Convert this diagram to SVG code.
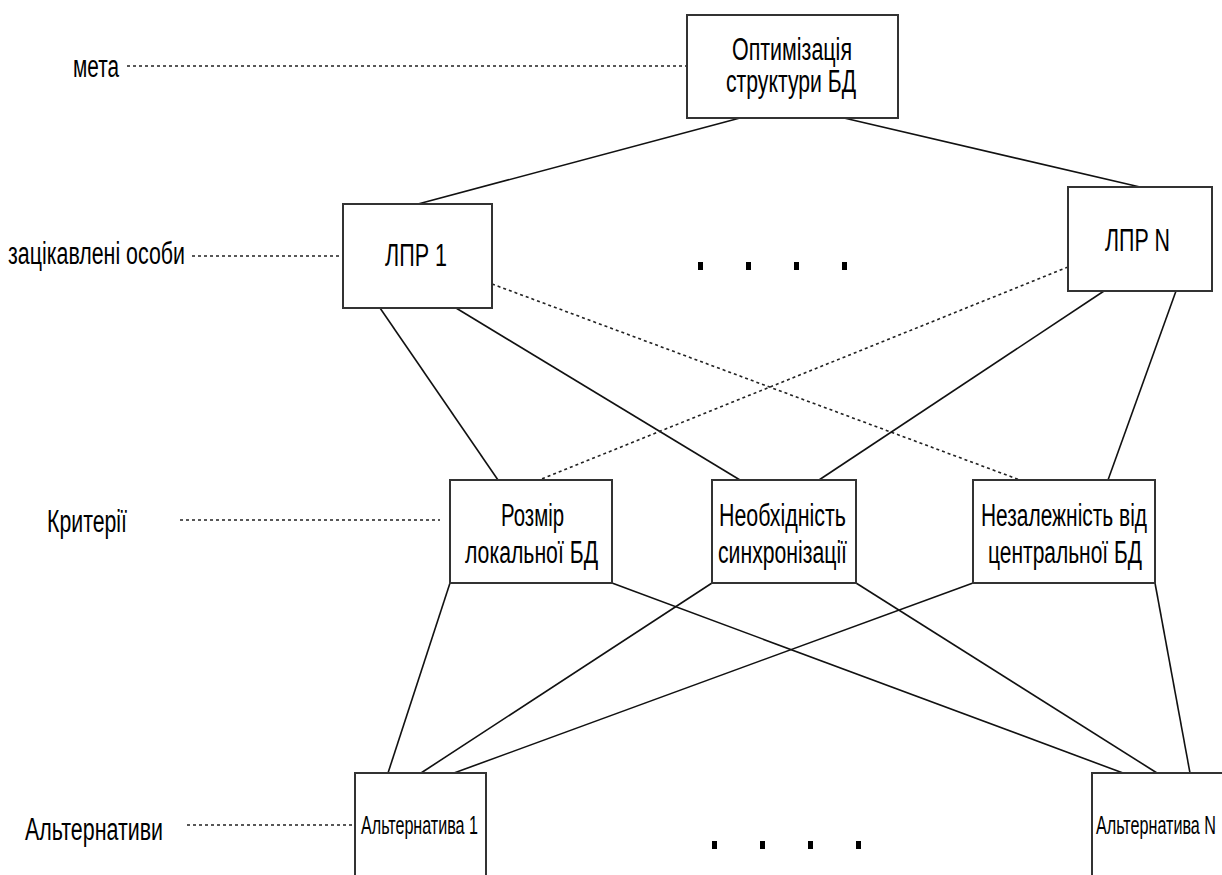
<svg xmlns="http://www.w3.org/2000/svg" width="1222" height="875" viewBox="0 0 1222 875">
  <style>
    .box { fill: #fff; stroke: #333; stroke-width: 2; }
    .t { font-family: "Liberation Sans", Arial, sans-serif; fill: #000; }
    .big { font-size: 31px; }
    .small { font-size: 26px; }
    .edge { stroke: #111; stroke-width: 1.6; fill: none; }
    .dash { stroke: #222; stroke-width: 1.6; stroke-dasharray: 3 3; fill: none; }
    .dot { fill: #000; }
  </style>
  <rect width="1222" height="875" fill="#fff"/>

  <!-- level labels with leader lines -->
  <g id="levels">
    <text class="t big" x="73" y="77" textLength="46" lengthAdjust="spacingAndGlyphs">мета</text>
    <line class="dash" x1="127" y1="66" x2="687" y2="66"/>
    <text class="t big" x="8" y="264" textLength="177" lengthAdjust="spacingAndGlyphs">зацікавлені особи</text>
    <line class="dash" x1="192" y1="256" x2="343" y2="256"/>
    <text class="t big" x="47" y="532" textLength="80" lengthAdjust="spacingAndGlyphs">Критерії</text>
    <line class="dash" x1="180" y1="520" x2="440" y2="520"/>
    <text class="t big" x="25" y="840" textLength="138" lengthAdjust="spacingAndGlyphs">Альтернативи</text>
    <line class="dash" x1="187" y1="825" x2="355" y2="825"/>
  </g>

  <!-- connectors -->
  <g id="connectors">
    <line class="edge" x1="740" y1="118" x2="418" y2="204"/>
    <line class="edge" x1="844" y1="118" x2="1140" y2="187"/>
    <line class="edge" x1="380" y1="308" x2="498" y2="480"/>
    <line class="edge" x1="456" y1="308" x2="740" y2="480"/>
    <line class="dash" x1="492" y1="284" x2="1020" y2="480"/>
    <line class="dash" x1="1068" y1="267" x2="539" y2="480"/>
    <line class="edge" x1="1104" y1="291" x2="819" y2="480"/>
    <line class="edge" x1="1176" y1="291" x2="1108" y2="480"/>
    <line class="edge" x1="450" y1="583" x2="388" y2="773"/>
    <line class="edge" x1="612" y1="583" x2="1123" y2="773"/>
    <line class="edge" x1="712" y1="583" x2="421" y2="773"/>
    <line class="edge" x1="856" y1="583" x2="1157" y2="773"/>
    <line class="edge" x1="973" y1="583" x2="454" y2="773"/>
    <line class="edge" x1="1155" y1="583" x2="1190" y2="773"/>
  </g>

  <g id="goal">
    <rect class="box" x="687" y="15" width="211" height="103"/>
    <text class="t big" x="732" y="60" textLength="120" lengthAdjust="spacingAndGlyphs">Оптимізація</text>
    <text class="t big" x="726" y="92" textLength="130" lengthAdjust="spacingAndGlyphs">структури БД</text>
  </g>

  <g id="dm1">
    <rect class="box" x="343" y="204" width="149" height="104"/>
    <text class="t big" x="385" y="266" textLength="62" lengthAdjust="spacingAndGlyphs">ЛПР 1</text>
  </g>

  <g id="dmN">
    <rect class="box" x="1068" y="187" width="144" height="104"/>
    <text class="t big" x="1105" y="251" textLength="65" lengthAdjust="spacingAndGlyphs">ЛПР N</text>
  </g>

  <g id="dm-ellipsis">
    <rect class="dot" x="698" y="262" width="5" height="8"/>
    <rect class="dot" x="746" y="262" width="5" height="8"/>
    <rect class="dot" x="794" y="262" width="5" height="8"/>
    <rect class="dot" x="842" y="262" width="5" height="8"/>
  </g>

  <g id="crit-size">
    <rect class="box" x="450" y="480" width="162" height="103"/>
    <text class="t big" x="501" y="526" textLength="63" lengthAdjust="spacingAndGlyphs">Розмір</text>
    <text class="t big" x="465" y="563" textLength="133" lengthAdjust="spacingAndGlyphs">локальної БД</text>
  </g>

  <g id="crit-sync">
    <rect class="box" x="712" y="480" width="144" height="103"/>
    <text class="t big" x="719" y="526" textLength="127" lengthAdjust="spacingAndGlyphs">Необхідність</text>
    <text class="t big" x="718" y="563" textLength="129" lengthAdjust="spacingAndGlyphs">синхронізації</text>
  </g>

  <g id="crit-indep">
    <rect class="box" x="973" y="480" width="182" height="103"/>
    <text class="t big" x="981" y="526" textLength="166" lengthAdjust="spacingAndGlyphs">Незалежність від</text>
    <text class="t big" x="988" y="563" textLength="154" lengthAdjust="spacingAndGlyphs">центральної БД</text>
  </g>

  <g id="alt1">
    <rect class="box" x="355" y="773" width="131" height="110"/>
    <text class="t small" x="361" y="834" textLength="117" lengthAdjust="spacingAndGlyphs">Альтернатива 1</text>
  </g>

  <g id="altN">
    <rect class="box" x="1092" y="773" width="132" height="110"/>
    <text class="t small" x="1096" y="834" textLength="120" lengthAdjust="spacingAndGlyphs">Альтернатива N</text>
  </g>

  <g id="alt-ellipsis">
    <rect class="dot" x="712" y="841" width="5" height="8"/>
    <rect class="dot" x="760" y="841" width="5" height="8"/>
    <rect class="dot" x="808" y="841" width="5" height="8"/>
    <rect class="dot" x="856" y="841" width="5" height="8"/>
  </g>
</svg>
